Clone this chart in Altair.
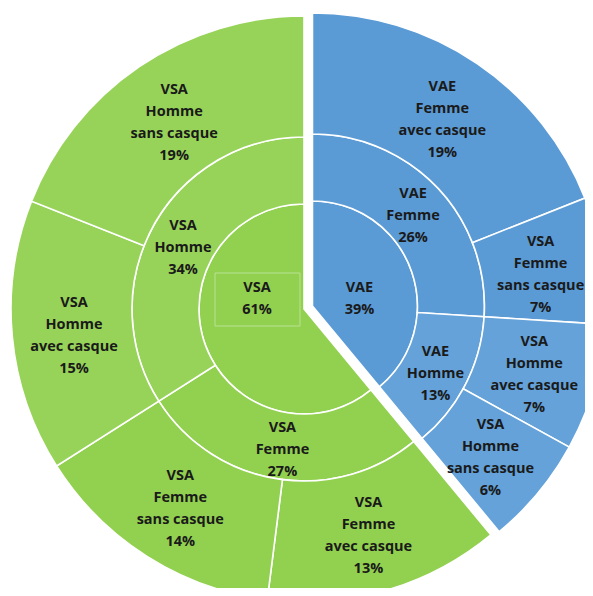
import altair as alt
import pandas as pd

# ---- data ----
levels = [0, 0, 1, 1, 1, 1, 2, 2, 2, 2, 2, 2, 2, 2]
groups = ["VAE", "VSA",
          "VAE", "VAE", "VSA", "VSA",
          "VAE", "VAE", "VAE", "VAE", "VSA", "VSA", "VSA", "VSA"]
sexes = ["", "",
         "Femme", "Homme", "Femme", "Homme",
         "Femme", "Femme", "Homme", "Homme", "Femme", "Femme", "Homme", "Homme"]
names = ["VAE", "VSA",
         "VAE\nFemme", "VAE\nHomme", "VSA\nFemme", "VSA\nHomme",
         "VAE\nFemme\navec casque", "VSA\nFemme\nsans casque",
         "VSA\nHomme\navec casque", "VSA\nHomme\nsans casque",
         "VSA\nFemme\navec casque", "VSA\nFemme\nsans casque",
         "VSA\nHomme\navec casque", "VSA\nHomme\nsans casque"]
values = [39, 61,
          26, 13, 27, 34,
          19, 7, 7, 6, 13, 14, 15, 19]

df = pd.DataFrame({
    "level": levels,
    "group": groups,
    "sexe": sexes,
    "name": names,
    "value": values,
    "order": list(range(len(values))),
})
df["text"] = df["name"] + "\n" + df["value"].astype(str) + "%"
df["key"] = df["group"] + df["sexe"]

LH = 22

base = alt.Chart(df).transform_window(
    cum="sum(value)", sort=[alt.SortField("order")], groupby=["level"],
    frame=[None, 0]
).transform_calculate(
    start="datum.cum - datum.value"
).transform_joinaggregate(
    gstart="min(start)", gend="max(cum)", groupby=["group"]
).transform_calculate(
    a0="2*PI*datum.start/100",
    a1="2*PI*datum.cum/100",
    mid="PI*(datum.start+datum.cum)/100",
    gmid="PI*(datum.gstart+datum.gend)/100",
    ex="datum.group == 'VAE' ? 9 : 0",
    nl="length(split(datum.text, '\\n'))",
).transform_calculate(
    cx="296 + datum.ex*sin(datum.gmid)",
    cy="301 - datum.ex*cos(datum.gmid)",
    r0="datum.level == 0 ? 0 : datum.level == 1 ? 105 : 172",
    r1="datum.level == 0 ? 105 : datum.level == 1 ? 172 : 293",
    lr="datum.level == 0 ? 47 : datum.level == 1 ? 138 : 231",
).transform_calculate(
    tx="datum.level == 0 ? datum.cx + datum.lr*(sin(datum.mid) > 0 ? 1 : -1) : datum.cx + datum.lr*sin(datum.mid)",
    ty="datum.level == 0 ? 291 : datum.cy - datum.lr*cos(datum.mid) + 5",
).transform_calculate(
    ty1=f"datum.ty - (datum.nl - 1)*{LH}/2",
)

color_scale = alt.Scale(
    domain=["VAE", "VAEFemme", "VAEHomme", "VSA", "VSAFemme", "VSAHomme"],
    range=["#5B9BD5", "#5B9BD5", "#64A2D9", "#92D050", "#92D050", "#98D359"],
)

arcs = base.mark_arc(stroke="white", strokeWidth=1.6).encode(
    x=alt.X("cx:Q", scale=None),
    y=alt.Y("cy:Q", scale=None),
    theta=alt.Theta("a0:Q", scale=None),
    theta2=alt.Theta2("a1:Q"),
    radius=alt.Radius("r1:Q", scale=None),
    radius2=alt.Radius2("r0:Q"),
    color=alt.Color("key:N", scale=color_scale, legend=None),
)

box = base.transform_filter(
    "datum.level == 0 && datum.group == 'VSA'"
).transform_calculate(
    bx0="datum.tx - 42", bx1="datum.tx + 43",
    by0="datum.ty - 26", by1="datum.ty + 27",
).mark_rect(fill=None, stroke="#b9e292", strokeWidth=1).encode(
    x=alt.X("bx0:Q", scale=None), x2="bx1:Q",
    y=alt.Y("by0:Q", scale=None), y2="by1:Q",
)

labels = base.mark_text(
    font="Open Sans", fontWeight="bold", fontSize=14.5, lineHeight=LH,
    lineBreak="\n", color="#1a1a1a", align="center", baseline="middle",
).encode(
    x=alt.X("tx:Q", scale=None),
    y=alt.Y("ty1:Q", scale=None),
    text="text:N",
)

chart = alt.layer(arcs, box, labels).properties(
    width=577, height=580, autosize=alt.AutoSizeParams(type="none"),
    padding=0,
).configure_view(stroke=None)

chart.save("out.html", embed_options={"renderer": "svg", "actions": False})
